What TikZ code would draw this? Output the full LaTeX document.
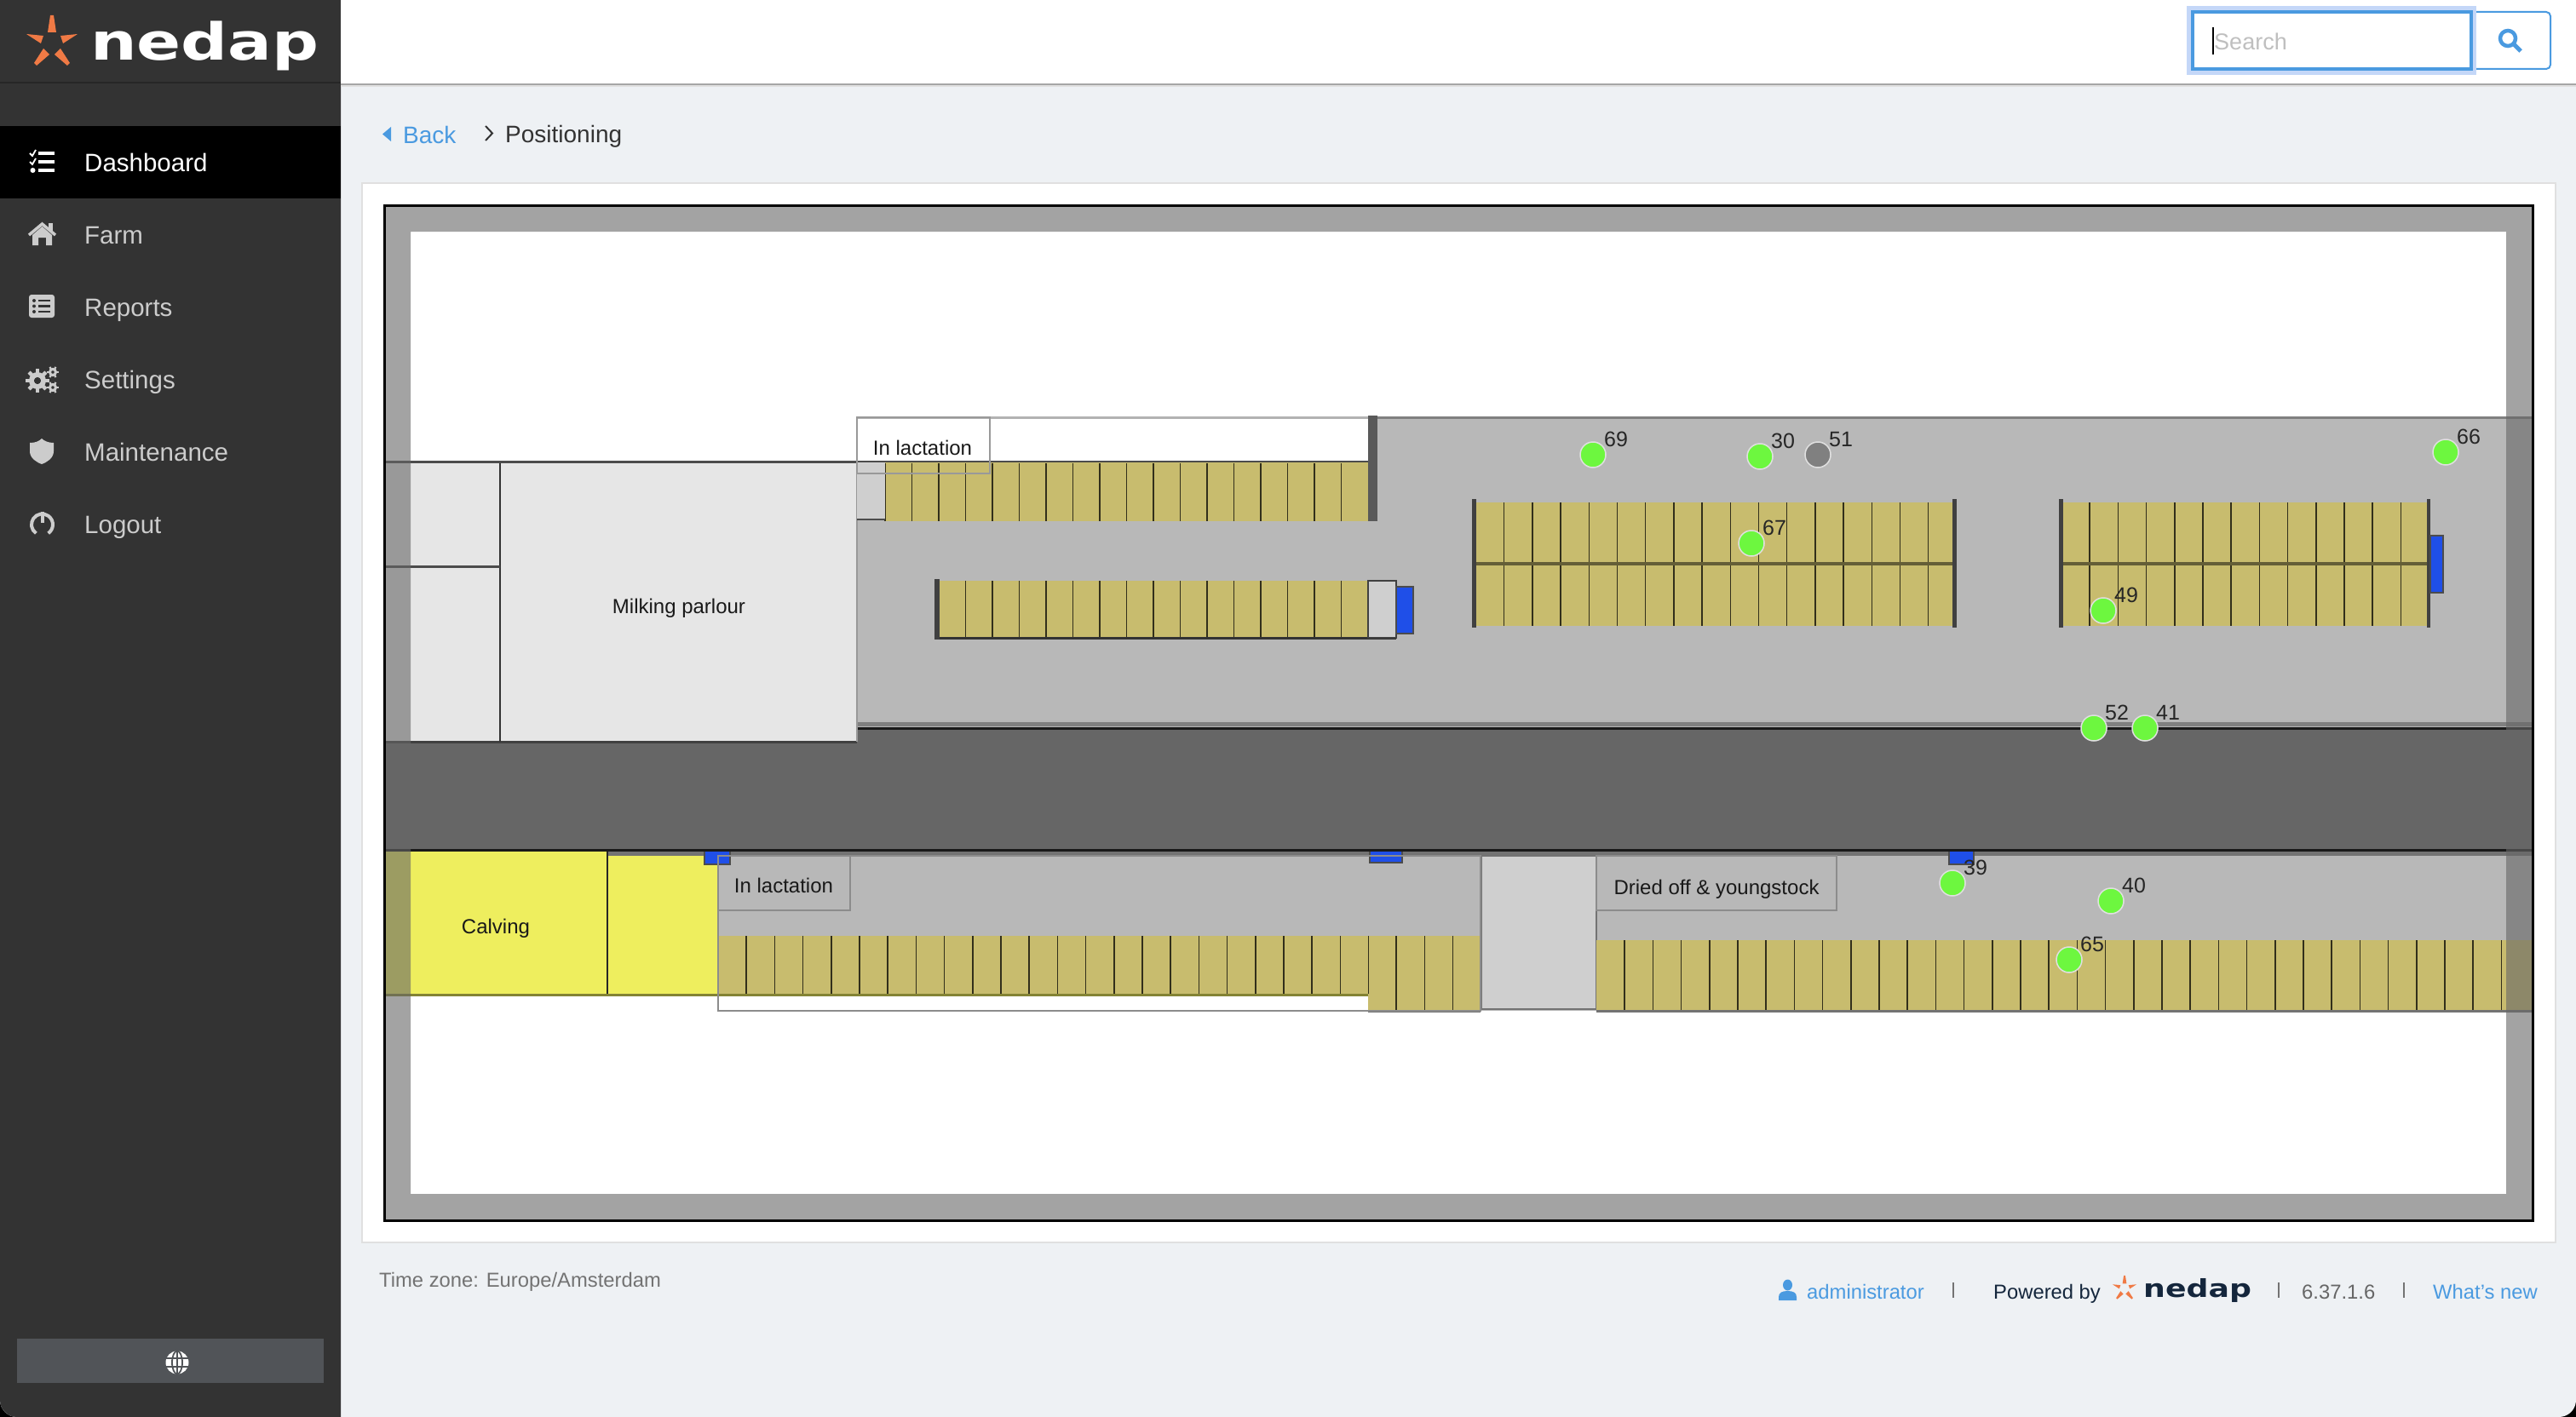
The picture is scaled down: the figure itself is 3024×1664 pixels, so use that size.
\documentclass[tikz,border=0pt]{standalone}
\usepackage{graphicx}
\usepackage{fontspec}
\setmainfont{Liberation Sans}
\newfontfamily\logofont{DejaVu Sans}
\usetikzlibrary{positioning}
\definecolor{sidebar}{HTML}{333333}
\definecolor{pagebg}{HTML}{EEF1F4}
\definecolor{linkblue}{HTML}{4A9AE0}
\definecolor{logoorange}{HTML}{F07A45}
\definecolor{logonavy}{HTML}{14263C}
\definecolor{corridor}{HTML}{666666}
\definecolor{barn}{HTML}{B8B8B8}
\definecolor{parlour}{HTML}{E6E6E6}
\definecolor{lightbox}{HTML}{CFCFCF}
\definecolor{stallfill}{HTML}{C8BC6E}
\definecolor{calving}{HTML}{EEEE5E}
\definecolor{brush}{HTML}{1F4FE8}
\definecolor{cowgreen}{HTML}{6DF73F}
\tikzset{
    navitem/.style={anchor=base west, inner sep=0pt, text=black!20, font=\fontsize{29.5}{34}\selectfont}, % menu entries
    navicon/.style={fill=black!20, draw=none}, % menu icons
    crumb/.style={anchor=base west, inner sep=0pt, font=\fontsize{28}{34}\selectfont},
    foot/.style={anchor=base west, inner sep=0pt, font=\fontsize{23.8}{28}\selectfont},
    footsep/.style={draw=black!55, line width=1.5pt},
    area/.style={anchor=base, inner sep=0pt, text=black!90, font=\fontsize{24}{28}\selectfont}, % names of the barn areas
    stalls/.style={fill=stallfill, draw=none},
    stallline/.style={draw=black!75!stallfill, line width=1.5pt},
    post/.style={fill=black!75, draw=none},
    brushbox/.style={fill=brush, draw=black!70, line width=1.5pt},
    zone/.style={draw=black!45, line width=2pt}, % outline of a group
    cow/.style={circle, minimum size=30pt, inner sep=0pt, fill=cowgreen, draw=black!12, line width=1.5pt},
    cowgrey/.style={cow, fill=black!50},
    cownum/.style={inner sep=0pt, xshift=27pt, yshift=18pt, text=black!85, font=\fontsize{25}{28}\selectfont},
    nedapstar/.pic={
        \fill (-2,-30) -- (2,-30) -- (5,-10) -- (-5,-10) -- cycle;
        \fill (-30,-8) -- (-10,-6) -- (-13,3) -- cycle;
        \fill (30,-8) -- (10,-6) -- (13,3) -- cycle;
        \fill (-10,9) -- (-3,16) -- (-18,29) -- (-21,26) -- cycle;
        \fill (10,9) -- (3,16) -- (18,29) -- (21,26) -- cycle;
    },
}

\begin{document}
\begin{tikzpicture}[x=1pt, y=-1pt]
    \useasboundingbox (0,0) rectangle (3024,1664);

    % window
    \fill[black] (0,0) rectangle (3024,1664);
    \fill[pagebg] (0,0) -- (3024,0) [rounded corners=20pt] -- (3024,1664) -- (0,1664) [sharp corners] -- cycle;
    \fill[sidebar] (0,0) -- (400,0) -- (400,1664) [rounded corners=20pt] -- (0,1664) [sharp corners] -- cycle;
    \fill[white] (400,0) rectangle (3024,98);
    \draw[black!35, line width=2pt] (400,99) -- (3024,99);
    \draw[black!12, line width=2pt] (400,101) -- (3024,101);
    \draw[black!85, line width=1.5pt] (0,97) -- (400,97);
    \fill[black] (0,148) rectangle (400,233);

    % logo
    \pic[logoorange] at (61,48) {nedapstar};
    \node[anchor=base west, inner sep=0pt, text=white, font=\logofont\bfseries\fontsize{60}{60}\selectfont] (logo) at (106,71) {\scalebox{1.28}[1]{nedap}};

    % menu
    \node[navitem, text=white] (dashboard) at (99,201) {Dashboard};
    \node[navitem] (farm) at (99,286) {Farm};
    \node[navitem] (reports) at (99,371) {Reports};
    \node[navitem] (settings) at (99,456) {Settings};
    \node[navitem] (maintenance) at (99,541) {Maintenance};
    \node[navitem] (logout) at (99,626) {Logout};

    % menu icons
    \foreach \y in {180,190,200} {
        \draw[white, line width=3.5pt] (45,\y) -- (64,\y);
    }
    \draw[white, line width=1.8pt] (35,180) -- (38,183) -- (42,176);
    \draw[white, line width=1.8pt] (35,190) -- (38,193) -- (42,186);
    \fill[white] (38.5,200) circle (3);
    \fill[navicon] (38,276) -- (49.5,266) -- (61,276) -- (61,288) -- (54,288) -- (54,279) -- (45,279) -- (45,288) -- (38,288) -- cycle;
    \draw[black!20, line width=3.5pt] (34,276) -- (49.5,263) -- (65,276);
    \fill[navicon] (57,262) rectangle (62,271);
    \fill[navicon, rounded corners=3pt] (34,346) rectangle (64,373);
    \foreach \y in {353,359.5,366} {
        \fill[sidebar] (40,\y) circle (2);
        \draw[sidebar, line width=2.5pt] (45,\y) -- (59,\y);
    }
    \fill[even odd rule, navicon] (44,447) circle (10) (44,447) circle (4);
    \foreach \a in {0,45,...,315} {
        \draw[black!20, line width=4.5pt] (44,447)+(\a:8) -- +(\a:14);
    }
    \fill[sidebar] (44,447) circle (4);
    \foreach \y in {437,455} {
        \draw[black!20, line width=3pt] (62,\y) circle (3.5);
        \foreach \a in {0,60,...,300} {
            \draw[black!20, line width=2.2pt] (62,\y)+(\a:4) -- +(\a:7);
        }
    }
    \fill[navicon] (35,520) .. controls (42,520) and (46,518) .. (49,515) .. controls (52,518) and (57,520) .. (63,520) -- (63,530) .. controls (63,538) and (55,543) .. (49,545) .. controls (43,543) and (35,538) .. (35,530) -- cycle;
    \draw[black!20, line width=4pt] (49.5,616)+(125:12.5) arc[start angle=125, end angle=415, radius=12.5];
    \draw[black!20, line width=4pt] (49.5,601) -- (49.5,614);

    % language button
    \fill[black!60!cyan!25!sidebar] (20,1572) rectangle (380,1624);
    \fill[white] (208,1600) circle (13.5);
    \draw[black!60!cyan!25!sidebar, line width=1.8pt] (208,1600) ellipse (6 and 13.5) (208,1586) -- (208,1614) (194,1595) -- (222,1595) (194,1605) -- (222,1605);

    % search
    \fill[white, draw=linkblue, line width=2pt, rounded corners=5pt] (2860,14) rectangle (2994,81);
    \fill[blue!20!linkblue!30!white] (2567,7) rectangle (2907,88);
    \fill[white, draw=linkblue, line width=4pt] (2574,14) rectangle (2901,81);
    \node[crumb, text=black!25, font=\fontsize{27}{32}\selectfont] (search) at (2599,59) {Search};
    \draw[black, line width=2pt] (2598,32) -- (2598,64);
    \draw[linkblue, line width=4.5pt] (2944,45) circle (9);
    \draw[linkblue, line width=5pt] (2951,52) -- (2959,60);

    % breadcrumb
    \fill[linkblue] (459,149) -- (459,166) -- (449,157.5) -- cycle;
    \node[crumb, text=linkblue] (back) at (473,168.5) {Back};
    \draw[black!80, line width=2pt] (570,148) -- (578,156.5) -- (570,165);
    \node[crumb, text=black!80] (positioning) at (593,168) {Positioning};

    % card and map
    \fill[white, draw=black!12, line width=2pt] (425,215) rectangle (3000,1459);
    \fill[white] (451,241) rectangle (2973,1433);

    % corridor
    \fill[corridor] (451,856) rectangle (2973,998);

    % upper barn
    \fill[barn] (1006,490) rectangle (2973,856);
    \fill[white] (1006,490) rectangle (1606,542);
    \draw[black!50, line width=3pt] (1617,490) -- (2973,490);
    \draw[black!30, line width=3pt] (1006,490) -- (1606,490);
    \draw[black!50, line width=5pt] (1006,850) -- (2973,850);
    \draw[black!90, line width=3pt] (1006,855) -- (2973,855);

    % milking parlour
    \fill[parlour] (451,542) rectangle (1006,871);
    \draw[black!75, line width=3pt] (451,871) -- (1006,871);
    \draw[black!40, line width=2pt] (1006,542) -- (1006,871);
    \draw[black!80, line width=2pt] (587,542) -- (587,871);
    \draw[black!70, line width=3pt] (451,665) -- (587,665);
    \draw[black!70, line width=3pt] (451,542) -- (1606,542);
    \node[area] (parlourname) at (797,720) {Milking parlour};

    % stalls upper left
    \fill[stalls] (1039,543) rectangle (1606,612);
    \foreach \k in {0,...,17} {
        \draw[stallline] ({1039+31.5*\k},544) -- ++(0,68);
    }
    \fill[lightbox] (1006,543) rectangle (1039,611);
    \draw[black!70, line width=2.5pt] (1006,610) -- (1039,610);
    \fill[post, black!65] (1606,488) rectangle (1617,612);
    \draw[zone, black!40] (1006,490) rectangle (1162,556);
    \node[area] (lactationup) at (1083,534) {In lactation};

    % stalls middle left
    \fill[stalls] (1100,682) rectangle (1606,749);
    \foreach \k in {1,...,16} {
        \draw[stallline] ({1102+31.5*\k},682) -- ++(0,67);
    }
    \draw[black!80, line width=3pt] (1097,749) -- (1639,749);
    \fill[post] (1097,680) rectangle (1103,751);
    \fill[lightbox, draw=black!75, line width=2pt] (1606,682) rectangle (1639,749);
    \fill[brushbox] (1639,689) rectangle (1659,744);

    % double row
    \fill[stalls] (1730,590) rectangle (2295,735);
    \foreach \k in {1,...,16} {
        \draw[stallline] ({1732.5+33.2*\k},590) -- ++(0,145);
    }
    \draw[black!50!stallfill, line width=3.5pt] (1730,662) -- (2295,662);
    \fill[post] (1728,586) rectangle (1733,737);
    \fill[post] (2292,586) rectangle (2297,737);

    % double row right
    \fill[stalls] (2419,590) rectangle (2851,735);
    \foreach \k in {1,...,12} {
        \draw[stallline] ({2420+33.2*\k},590) -- ++(0,145);
    }
    \draw[black!50!stallfill, line width=3.5pt] (2419,662) -- (2851,662);
    \fill[post] (2417,586) rectangle (2422,737);
    \fill[post] (2849,586) rectangle (2853,737);
    \fill[brushbox] (2853,629) rectangle (2868,696);

    % lower barn
    \fill[barn] (843,1005) rectangle (2973,1187);
    \fill[black!55] (713,999) rectangle (2973,1005);
    \fill[calving] (451,999) rectangle (713,1167);
    \fill[calving] (713,1005) rectangle (843,1167);
    \draw[black!85, line width=2pt] (713,999) -- (713,1168);
    \node[area] (calvingname) at (582,1096) {Calving};

    % stalls lower left
    \fill[white] (843,1167) rectangle (1606,1187);
    \fill[stalls] (843,1099) rectangle (1606,1167);
    \fill[stalls] (1606,1099) rectangle (1738,1187);
    \foreach \k in {1,...,23} {
        \draw[stallline] ({843+33.2*\k},1099) -- ++(0,68);
    }
    \foreach \k in {1,...,3} {
        \draw[stallline] ({1606+33.2*\k},1099) -- ++(0,88);
    }
    \draw[black!45!calving, line width=3pt] (451,1168) -- (1606,1168);

    % lower barn, service area
    \fill[lightbox] (1739,1005) rectangle (1874,1185);
    \draw[black!55, line width=2pt] (1739,1005) rectangle (1874,1185);

    % stalls lower right
    \fill[stalls] (1874,1104) rectangle (2973,1187);
    \foreach \k in {1,...,32} {
        \draw[stallline] ({1874+33.2*\k},1104) -- ++(0,83);
    }
    \draw[black!55, line width=3pt] (1606,1187) -- (1738,1187);
    \draw[black!55, line width=3pt] (1874,1187) -- (2973,1187);

    % brushes on the wall
    \fill[brushbox] (827,999) rectangle (857,1015);
    \fill[brushbox] (1608,999) rectangle (1646,1013);
    \fill[brushbox] (2288,999) rectangle (2317,1015);
    \draw[black!90, line width=3pt] (451,998) -- (2973,998);

    % group outlines
    \draw[zone] (843,1005) rectangle (1738,1187);
    \draw[zone] (843,1005) rectangle (998,1069);
    \node[area] (lactationlow) at (920,1048.5) {In lactation};
    \draw[zone] (1874,1005) rectangle (2156,1069);
    \node[area] (driedoff) at (2015,1050.5) {Dried off \& youngstock};

    % outer band, shows what is below it
    \fill[corridor, fill opacity=0.6, even odd rule] (451,241) rectangle (2973,1433) (482,272) rectangle (2942,1402);
    \draw[black, line width=3pt] (451,241) rectangle (2973,1433);

    % cows
    \node[cow] (c69) at (1870,534) {};
    \node[cow] (c30) at (2066,536) {};
    \node[cowgrey] (c51) at (2134,534) {};
    \node[cow] (c66) at (2871,531) {};
    \node[cow] (c67) at (2056,638) {};
    \node[cow] (c49) at (2469,717) {};
    \node[cow] (c52) at (2458,855) {};
    \node[cow] (c41) at (2518,855) {};
    \node[cow] (c39) at (2292,1037) {};
    \node[cow] (c40) at (2478,1058) {};
    \node[cow] (c65) at (2429,1127) {};
    \node[cownum] (n69) at (c69) {69};
    \node[cownum] (n30) at (c30) {30};
    \node[cownum] (n51) at (c51) {51};
    \node[cownum] (n66) at (c66) {66};
    \node[cownum] (n67) at (c67) {67};
    \node[cownum] (n49) at (c49) {49};
    \node[cownum] (n52) at (c52) {52};
    \node[cownum] (n41) at (c41) {41};
    \node[cownum] (n39) at (c39) {39};
    \node[cownum] (n40) at (c40) {40};
    \node[cownum] (n65) at (c65) {65};

    % footer
    \node[foot, text=black!55] (timezone) at (445,1511.5) {Time zone: Europe/Amsterdam};
    \fill[linkblue] (2098.5,1509) ellipse (5.5 and 6.5);
    \fill[linkblue] (2088,1527) -- (2088,1523) .. controls (2088,1518) and (2092,1516) .. (2098.5,1516) .. controls (2105,1516) and (2109,1518) .. (2109,1523) -- (2109,1527) -- cycle;
    \node[foot, text=linkblue] (admin) at (2121,1525) {administrator};
    \draw[footsep] (2293,1506) -- (2293,1524);
    \node[foot, text=logonavy] (powered) at (2340,1525) {Powered by};
    \pic[logoorange, scale=0.47] at (2494,1512) {nedapstar};
    \node[anchor=base west, inner sep=0pt, text=logonavy, font=\logofont\bfseries\fontsize{29}{29}\selectfont] (logosmall) at (2516,1523) {\scalebox{1.25}[1]{nedap}};
    \draw[footsep] (2675,1506) -- (2675,1524);
    \node[foot, text=black!60] (version) at (2702,1525) {6.37.1.6};
    \draw[footsep] (2822,1506) -- (2822,1524);
    \node[foot, text=linkblue] (whatsnew) at (2856,1525) {What's new};
\end{tikzpicture}
\end{document}
